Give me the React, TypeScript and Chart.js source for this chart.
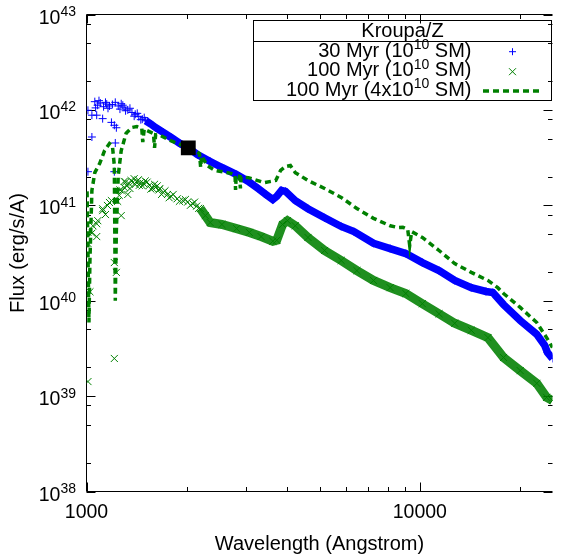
import React, { useEffect, useRef } from 'react';
import { Chart, registerables } from 'chart.js';

Chart.register(...registerables);

// ---------- data (wavelength in Angstrom, flux in erg/s/A) ----------
const xTickValues = [1000, 2000, 3000, 4000, 5000, 6000, 7000, 8000, 9000, 10000, 20000];
const xMajorTicks = [1000, 10000];
const yDecades = [38, 39, 40, 41, 42, 43];
const yMinorFactors = [2, 5, 8];

const legendTitle = 'Kroupa/Z';
const legendLabels: [string, string, string][] = [
  ['30 Myr (10', '10', ' SM)'],
  ['100 Myr (10', '10', ' SM)'],
  ['100 Myr (4x10', '10', ' SM)'],
];
const xAxisTitle = 'Wavelength (Angstrom)';
const yAxisTitle = 'Flux (erg/s/A)';

// 30 Myr, 1e10 SM (blue +), sparse UV part
const blueLeftWavelength = [1059, 1080, 1100, 1125, 1150, 1172, 1196, 1220, 1245, 1271, 1297, 1330, 1369, 1400, 1435, 1470,
  1010, 1038, 1073, 1118, 1188, 1212, 1229, 1038, 1010, 1212, 1220,
  1065, 1090, 1140, 1160, 1260, 1285, 1310, 1350, 1390, 1420, 1455, 1490];
const blueLeftFlux = [1.22e42, 1.12e42, 1.18e42, 1.08e42, 1.15e42, 1.1e42, 1.14e42, 1.2e42, 1.1e42, 1.16e42, 1.07e42, 1.0e42, 9.4e41, 9.0e41, 8.5e41, 8.0e41,
  9.9e41, 8.8e41, 8.8e41, 8.1e41, 7.4e41, 6.9e41, 6.5e41, 5.2e41, 2.25e41, 2.25e41, 4.5e41,
  1.05e42, 1.25e42, 1.2e42, 1.04e42, 1.02e42, 1.12e42, 9.8e41, 1.04e42, 8.6e41, 9.2e41, 7.9e41, 8.3e41];
// dense part
const blueMainWavelength = [1505, 1560, 1610, 1699, 1794, 1906, 2012, 2152, 2350, 2548, 2821, 3059, 3272, 3453, 3622, 3721, 3847, 3954,
  4230, 4617, 5179, 5808, 6343, 7261, 8145, 9075, 10176, 11417, 12722, 14266, 15790, 16550, 17830, 20000, 22430, 23680, 24150, 25000];
const blueMainFlux = [7.7e41, 7.1e41, 6.55e41, 5.8e41, 5.14e41, 4.45e41, 4.04e41, 3.4e41, 2.88e41, 2.49e41, 2.1e41, 1.78e41, 1.5e41, 1.3e41, 1.15e41, 1.24e41, 1.43e41, 1.4e41,
  1.12e41, 9.2e40, 7.4e40, 6.0e40, 5.3e40, 4.0e40, 3.52e40, 3.12e40, 2.51e40, 2.07e40, 1.63e40, 1.37e40, 1.25e40, 1.22e40, 9.1e39, 6.2e39, 4.43e39, 3.4e39, 2.86e39, 2.48e39];

// 100 Myr, 1e10 SM (green x), sparse UV part
const greenLeftWavelength = [1010, 1045, 1081, 1118, 1156, 1188, 1254, 1297, 1341, 1380, 1416, 1450, 1484, 1545, 1610, 1650, 1699, 1750, 1794, 1870, 1945, 2010, 2081, 2140,
  1010, 1038, 1073, 1024, 1010, 1212, 1212, 1229, 1118, 1172, 1297, 1271, 1073, 1140, 1260, 1330,
  1320, 1360, 1400, 1430, 1470, 1520, 1580, 1630, 1680, 1720, 1770, 1820, 1900, 1980, 2050, 2110, 2170,
  1240, 1280, 1310, 1350, 1390, 1440, 1500, 1560, 1600, 1660];
const greenLeftFlux = [5.2e40, 6.1e40, 6.9e40, 8.8e40, 9.96e40, 1.12e41, 1.27e41, 1.54e41, 1.69e41, 1.75e41, 1.78e41, 1.72e41, 1.69e41, 1.62e41, 1.54e41, 1.45e41, 1.36e41, 1.3e41, 1.24e41, 1.17e41, 1.12e41, 1.08e41, 1.04e41, 9.8e40,
  3.98e40, 5.1e40, 6.4e40, 1.24e40, 1.42e39, 2.48e39, 2.51e40, 1.98e40, 9.2e40, 1.07e41, 1.78e41, 7.8e40, 4.7e40, 8.0e40, 1.45e41, 1.3e41,
  1.6e41, 1.82e41, 1.65e41, 1.85e41, 1.6e41, 1.75e41, 1.5e41, 1.6e41, 1.3e41, 1.42e41, 1.2e41, 1.3e41, 1.1e41, 1.15e41, 1.0e41, 1.08e41, 9.3e40,
  1.1e41, 1.42e41, 1.75e41, 1.5e41, 1.9e41, 1.62e41, 1.8e41, 1.48e41, 1.66e41, 1.5e41];
// dense part
const greenMainWavelength = [2196, 2272, 2350, 2548, 2821, 3079, 3340, 3622, 3721, 3874, 4007, 4230, 4617, 5179, 5808, 6474, 7261, 8145,
  9075, 10176, 11417, 12722, 14266, 16005, 17830, 20000, 22430, 24000, 25000];
const greenMainFlux = [9.25e40, 7.8e40, 6.6e40, 6.3e40, 5.7e40, 5.2e40, 4.7e40, 4.2e40, 4.3e40, 6.3e40, 6.9e40, 6.1e40, 4.6e40, 3.36e40, 2.64e40, 2.07e40, 1.63e40, 1.37e40,
  1.19e40, 9.3e39, 7.3e39, 5.8e39, 4.9e39, 4.1e39, 2.54e39, 1.85e39, 1.36e39, 9.7e38, 9.0e38];

// 100 Myr, 4e10 SM (green dashed)
const dashedWavelength = [1004, 1010, 1017, 1024, 1038, 1059, 1095, 1133, 1172, 1196, 1212, 1220, 1229, 1245, 1271, 1315, 1369, 1416, 1465, 1475, 1490,
  1515, 1588, 1600, 1612, 1665, 1781, 1945, 2081, 2182, 2200, 2215, 2302, 2431, 2727, 2790, 2800, 2812, 2880, 2895, 2910, 3059, 3408, 3695, 3822,
  3954, 4089, 4230, 4617, 5179, 5808, 6474, 7261, 8145, 8596, 8890, 9196, 9323, 9450, 10176, 11417, 12722, 14266, 16005, 17122, 17830, 20000,
  22430, 24000, 25000];
const dashedFlux = [1.4e41, 3.36e40, 5.9e39, 2.64e40, 1.43e41, 2.2e41, 2.74e41, 3.75e41, 4.45e41, 4.2e41, 2.6e41, 1.0e40, 5.4e40, 2.05e41, 3.75e41, 5.7e41, 6.55e41, 6.7e41, 6.4e41, 4.6e41, 6.3e41,
  6.1e41, 5.66e41, 4.0e41, 5.5e41, 5.4e41, 4.78e41, 4.24e41, 3.85e41, 3.49e41, 2.5e41, 3.3e41, 2.61e41, 2.32e41, 2.15e41, 2.08e41, 1.45e41, 2.05e41, 2.0e41, 1.5e41, 1.98e41, 1.95e41, 1.73e41, 1.82e41, 2.32e41,
  2.55e41, 2.61e41, 2.2e41, 1.82e41, 1.5e41, 1.21e41, 9.25e40, 7.3e40, 6.1e40, 5.85e40, 5.9e40, 5.6e40, 3.79e40, 5.3e40, 4.6e40, 3.36e40, 2.45e40, 1.98e40, 1.63e40, 1.37e40, 1.19e40, 8.5e39,
  5.9e39, 4.1e39, 3.23e39];

// normalisation point (black square)
const squareWavelength = [2020];
const squareFlux = [4.0e41];

// ---------- styling ----------
const FONT = '"Liberation Sans", Arial, Helvetica, sans-serif';
const TICK_FONT = `19.5px ${FONT}`;
const BASE_FONT = `20px ${FONT}`;
const SUP_FONT = `14px ${FONT}`;
const BLUE = '#0000ff';
const GREEN = '#008000';

const pts = (w: number[], f: number[]) => w.map((x, i) => ({ x, y: f[i] }));

function drawParts(ctx: CanvasRenderingContext2D, parts: [string, boolean][], xStart: number, baseline: number, raise: number, base: string) {
  let x = xStart;
  for (const [t, sup] of parts) {
    ctx.font = sup ? SUP_FONT : base;
    ctx.fillText(t, x, sup ? baseline - raise : baseline);
    x += ctx.measureText(t).width;
  }
}
function partsWidth(ctx: CanvasRenderingContext2D, parts: [string, boolean][], base: string) {
  let w = 0;
  for (const [t, sup] of parts) {
    ctx.font = sup ? SUP_FONT : base;
    w += ctx.measureText(t).width;
  }
  return w;
}

const framePlugin = {
  id: 'gnuframe',
  beforeDatasetsDraw(chart: any) {
    const { ctx, chartArea: a, scales } = chart;
    const x = scales.x;
    const y = scales.y;
    ctx.save();
    ctx.strokeStyle = '#000';
    ctx.lineWidth = 1;
    ctx.beginPath();
    for (const v of xTickValues) {
      const px = Math.round(x.getPixelForValue(v)) + 0.5;
      const len = xMajorTicks.includes(v) ? 9 : 4.5;
      ctx.moveTo(px, a.bottom); ctx.lineTo(px, a.bottom - len);
      ctx.moveTo(px, a.top); ctx.lineTo(px, a.top + len);
    }
    for (const d of yDecades) {
      const vals: [number, number][] = [[Math.pow(10, d), 9]];
      if (d < 43) for (const m of yMinorFactors) vals.push([m * Math.pow(10, d), 4.5]);
      for (const [v, len] of vals) {
        const py = Math.round(y.getPixelForValue(v)) + 0.5;
        ctx.moveTo(a.left, py); ctx.lineTo(a.left + len, py);
        ctx.moveTo(a.right, py); ctx.lineTo(a.right - len, py);
      }
    }
    // frame: left, top, bottom (right edge lies outside the picture)
    ctx.moveTo(a.left, a.top); ctx.lineTo(a.right, a.top);
    ctx.moveTo(a.left, a.top); ctx.lineTo(a.left, a.bottom);
    ctx.moveTo(a.left, a.bottom); ctx.lineTo(a.right, a.bottom);
    ctx.stroke();
    ctx.restore();
  },
  afterDraw(chart: any) {
    const { ctx, chartArea: a, scales } = chart;
    const x = scales.x;
    const y = scales.y;
    ctx.save();
    ctx.fillStyle = '#000';
    ctx.textAlign = 'left';
    ctx.textBaseline = 'alphabetic';
    // y tick labels 10^n
    for (const d of yDecades) {
      const py = y.getPixelForValue(Math.pow(10, d));
      const parts: [string, boolean][] = [['10', false], [String(d), true]];
      const w = partsWidth(ctx, parts, TICK_FONT);
      drawParts(ctx, parts, 76 - w, py + 9, 7.5, TICK_FONT);
    }
    // x tick labels
    ctx.font = TICK_FONT;
    ctx.textAlign = 'center';
    for (const v of xMajorTicks) {
      ctx.fillText(String(v), x.getPixelForValue(v), 517.5);
    }
    // axis titles
    ctx.font = BASE_FONT;
    ctx.fillText(xAxisTitle, (a.left + a.right) / 2, 549.5);
    ctx.save();
    ctx.translate(24, (a.top + a.bottom) / 2);
    ctx.rotate(-Math.PI / 2);
    ctx.fillText(yAxisTitle, 0, 0);
    ctx.restore();

    // legend box
    ctx.strokeStyle = '#000';
    ctx.lineWidth = 1;
    ctx.strokeRect(253.5, 20.5, 298, 80);
    ctx.beginPath();
    ctx.moveTo(253.5, 41.5); ctx.lineTo(551.5, 41.5);
    ctx.stroke();
    ctx.font = BASE_FONT;
    ctx.textAlign = 'center';
    ctx.fillText(legendTitle, 402.5, 37);
    ctx.textAlign = 'left';
    const baselines = [56.5, 76, 95.7];
    legendLabels.forEach((lab, i) => {
      const parts: [string, boolean][] = [[lab[0], false], [lab[1], true], [lab[2], false]];
      const w = partsWidth(ctx, parts, BASE_FONT);
      drawParts(ctx, parts, 471.5 - w, baselines[i], 7.5, BASE_FONT);
    });
    // samples
    const sx = 512.5;
    ctx.lineWidth = 1;
    ctx.strokeStyle = BLUE;
    ctx.beginPath();
    ctx.moveTo(sx - 3.5, 51.7); ctx.lineTo(sx + 3.5, 51.7);
    ctx.moveTo(sx, 48.2); ctx.lineTo(sx, 55.2);
    ctx.stroke();
    ctx.strokeStyle = GREEN;
    ctx.beginPath();
    ctx.moveTo(sx - 3.5, 68.2); ctx.lineTo(sx + 3.5, 75.2);
    ctx.moveTo(sx - 3.5, 75.2); ctx.lineTo(sx + 3.5, 68.2);
    ctx.stroke();
    ctx.lineWidth = 3.5;
    ctx.setLineDash([6, 4]);
    ctx.beginPath();
    ctx.moveTo(483, 91); ctx.lineTo(540, 91);
    ctx.stroke();
    ctx.restore();
  },
};

export default function App() {
  const ref = useRef<HTMLCanvasElement>(null);
  useEffect(() => {
    document.body.style.margin = '0';
    const chart = new Chart(ref.current as HTMLCanvasElement, {
      type: 'scatter',
      data: {
        datasets: [
          {
            label: 'norm',
            data: pts(squareWavelength, squareFlux),
            pointStyle: 'rect',
            pointRadius: 10.5,
            backgroundColor: '#000',
            borderColor: '#000',
            borderWidth: 0,
          },
          {
            label: '100 Myr (4x10^10 SM)',
            data: pts(dashedWavelength, dashedFlux),
            showLine: true,
            borderColor: GREEN,
            borderWidth: 3.5,
            borderDash: [6, 4],
            pointRadius: 0,
            tension: 0,
          },
          {
            label: '100 Myr (10^10 SM) dense',
            data: pts(greenMainWavelength, greenMainFlux),
            showLine: true,
            borderColor: 'rgba(0,128,0,0.88)',
            borderWidth: 9,
            pointStyle: 'crossRot',
            pointRadius: 5,
            pointBorderWidth: 1,
            pointBorderColor: GREEN,
            backgroundColor: GREEN,
            tension: 0,
          },
          {
            label: '100 Myr (10^10 SM)',
            data: pts(greenLeftWavelength, greenLeftFlux),
            pointStyle: 'crossRot',
            pointRadius: 5,
            pointBorderWidth: 1,
            pointBorderColor: GREEN,
            backgroundColor: GREEN,
          },
          {
            label: '30 Myr (10^10 SM) dense',
            data: pts(blueMainWavelength, blueMainFlux),
            showLine: true,
            borderColor: BLUE,
            borderWidth: 7.5,
            pointStyle: 'cross',
            pointRadius: 4,
            pointBorderWidth: 1,
            pointBorderColor: BLUE,
            backgroundColor: BLUE,
            tension: 0,
          },
          {
            label: '30 Myr (10^10 SM)',
            data: pts(blueLeftWavelength, blueLeftFlux),
            pointStyle: 'cross',
            pointRadius: 4,
            pointBorderWidth: 1,
            pointBorderColor: BLUE,
            backgroundColor: BLUE,
          },
        ],
      },
      options: {
        responsive: false,
        animation: false,
        layout: { padding: { left: 86.5, top: 14.5, right: 0, bottom: 66.5 } },
        scales: {
          x: { type: 'logarithmic', min: 1000, max: 25000, display: false },
          y: { type: 'logarithmic', min: 1e38, max: 1e43, display: false },
        },
        plugins: {
          legend: { display: false },
          tooltip: { enabled: false },
        },
      },
      plugins: [framePlugin],
    });
    return () => chart.destroy();
  }, []);
  return <canvas ref={ref} width={563} height={558} style={{ display: 'block' }} />;
}
